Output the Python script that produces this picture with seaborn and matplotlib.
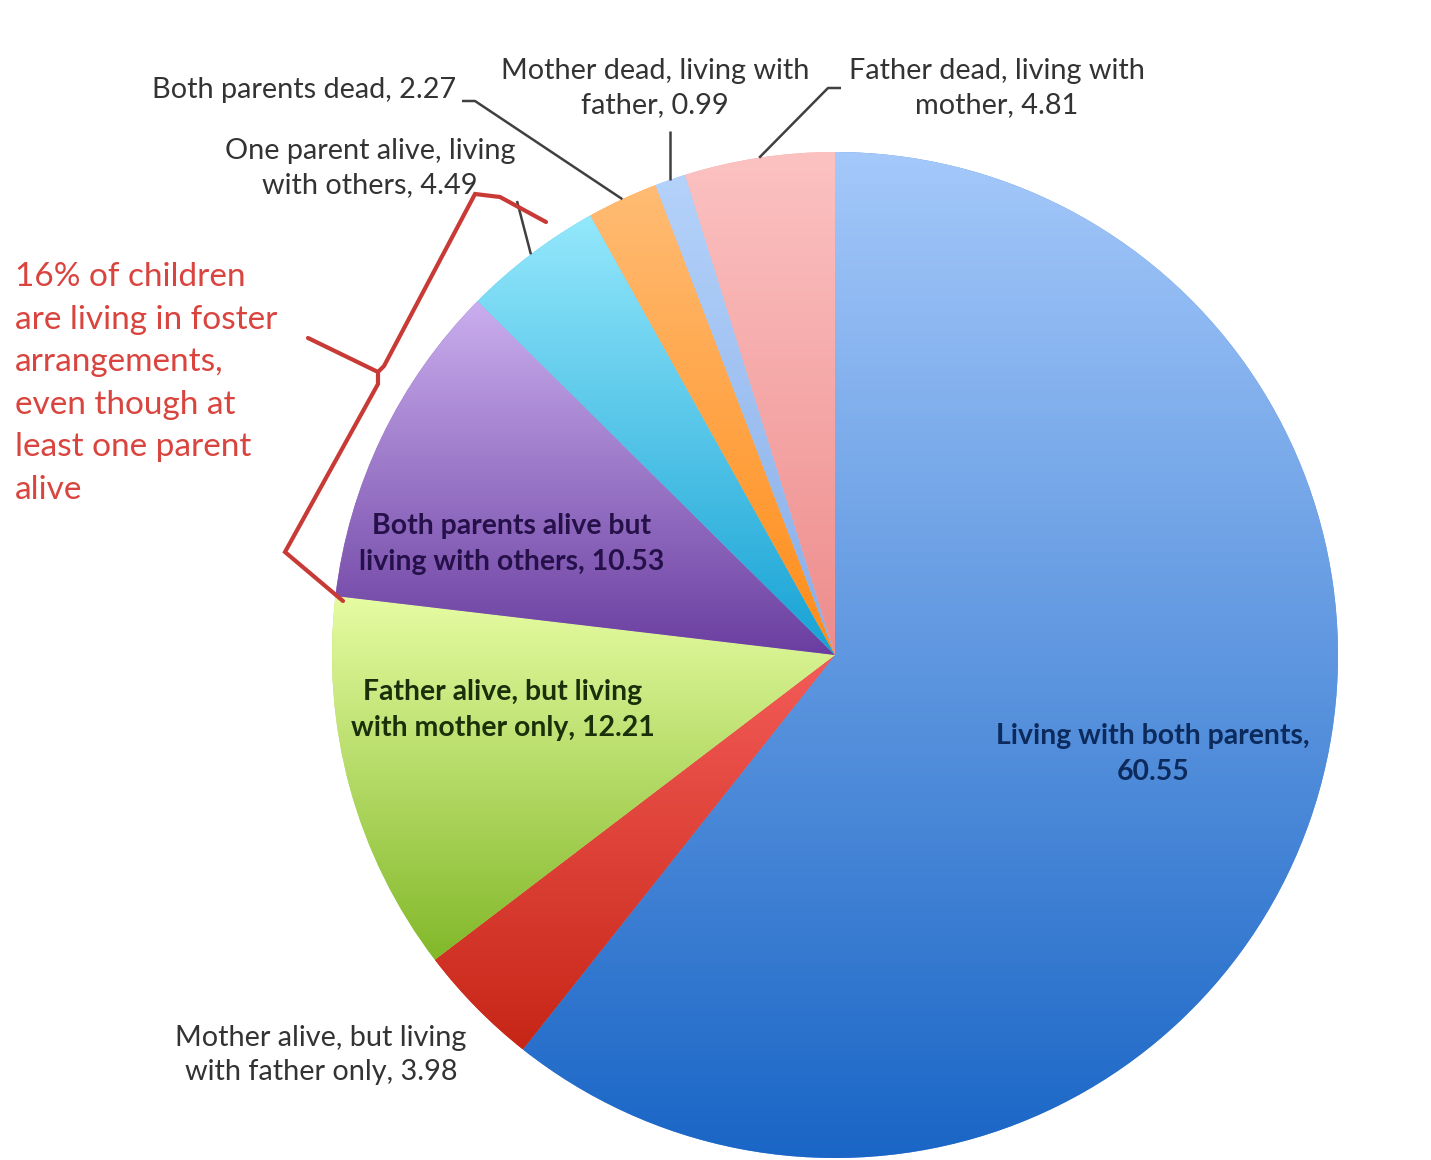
import numpy as np
import matplotlib
matplotlib.use("Agg")
import matplotlib.pyplot as plt
import seaborn as sns

# Living arrangements of children (percent), clockwise from 12 o'clock
categories = [
    "Living with both parents",
    "Mother alive, but living with father only",
    "Father alive, but living with mother only",
    "Both parents alive but living with others",
    "One parent alive, living with others",
    "Both parents dead",
    "Mother dead, living with father",
    "Father dead, living with mother",
]
values = [60.55, 3.98, 12.21, 10.53, 4.49, 2.27, 0.99, 4.81]

# (top colour, bottom colour) of each slice's vertical gradient
top_colors = ["#a4c8fa", "#f45c58", "#e6fca2", "#caaeee", "#94e8fc", "#ffbc74", "#b4d2fa", "#fcc2c2"]
bottom_colors = ["#1a66c6", "#c62616", "#82b82a", "#6a3ea0", "#16a2d4", "#ff8c18", "#88aee8", "#ee8c8c"]

label_texts = [
    "Living with both parents,\n60.55",
    "Mother alive, but living\nwith father only, 3.98",
    "Father alive, but living\nwith mother only, 12.21",
    "Both parents alive but\nliving with others, 10.53",
    "One parent alive, living\nwith others, 4.49",
    "Both parents dead, 2.27",
    "Mother dead, living with\nfather, 0.99",
    "Father dead, living with\nmother, 4.81",
]

note_text = ("16% of children\nare living in foster\narrangements,\n"
             "even though at\nleast one parent\nalive")

sns.set_theme(style="white")
plt.rcParams["font.family"] = ["Lato", "DejaVu Sans"]

W, H = 1431, 1160
fig = plt.figure(figsize=(W / 100, H / 100), dpi=100)
ax = fig.add_axes([0, 0, 1, 1])


def py(y):
    """Convert a top-down page coordinate to the axis y value."""
    return H - y


cx, cy, R = 835, py(655), 503

wedges, _ = ax.pie(values, startangle=90, counterclock=False,
                   center=(cx, cy), radius=R,
                   colors=[sns.blend_palette([t, b], 3)[1] for t, b in zip(top_colors, bottom_colors)],
                   wedgeprops=dict(linewidth=0, antialiased=True))

# gradient fill clipped to each wedge
grad = np.linspace(0, 1, 256).reshape(-1, 1)
for w, t, b in zip(wedges, top_colors, bottom_colors):
    cmap = sns.blend_palette([t, b], n_colors=256, as_cmap=True)
    ext = w.get_path().get_extents()
    im = ax.imshow(grad, cmap=cmap, origin="upper", aspect="auto",
                   extent=[ext.x0, ext.x1, ext.y0, ext.y1], interpolation="bilinear",
                   zorder=w.get_zorder() + 0.1)
    im.set_clip_path(w)


def edge_point(i, r=R):
    w = wedges[i]
    th = np.deg2rad((w.theta1 + w.theta2) / 2)
    return cx + r * np.cos(th), cy + r * np.sin(th)


lab = dict(fontsize=20.8, color="#333333", linespacing=1.4, zorder=5)
inner = dict(fontsize=20.4, fontweight="bold", linespacing=1.45, ha="center", va="center", zorder=5)
line_kw = dict(color="#404040", lw=1.8, zorder=4, solid_capstyle="butt")

# labels inside the slices
ax.text(1153, py(754), label_texts[0], color="#0c2a5c", **inner)
ax.text(503, py(710), label_texts[2], color="#1a300a", **inner)
ax.text(512, py(544), label_texts[3], color="#26104a", **inner)

# outside labels with leader lines
ax.text(321, py(1055), label_texts[1], ha="center", va="center", **lab)

ax.text(370, py(168), label_texts[4], ha="center", va="center", **lab)
ex, ey = edge_point(4)
ax.plot([517, ex], [py(201), ey], **line_kw)

ax.text(456, py(90), label_texts[5], ha="right", va="center", **lab)
ex, ey = edge_point(5)
ax.plot([462, 475, ex], [py(101), py(101), ey], **line_kw)

ax.text(655, py(88), label_texts[6], ha="center", va="center", **lab)
ex, ey = edge_point(6)
ax.plot([ex, ex], [py(131), ey], **line_kw)

ax.text(997, py(88), label_texts[7], ha="center", va="center", **lab)
ex, ey = edge_point(7)
ax.plot([ex, 828, 841], [ey, py(88), py(88)], **line_kw)

# red bracket and note
red = "#d9443e"
ax.plot([546, 500, 475, 384, 378], [py(222), py(197), py(194), py(366), py(372)],
        color="#c83a36", lw=3, zorder=6, solid_joinstyle="miter")
ax.plot([308, 378, 378, 285, 343], [py(338), py(372), py(384), py(552), py(601)],
        color="#c83a36", lw=3, zorder=6, solid_joinstyle="miter")
ax.text(15, py(383.5), note_text, color=red, fontsize=24, linespacing=1.52,
        ha="left", va="center", zorder=6)

ax.set_xlim(0, W)
ax.set_ylim(0, H)
ax.set_aspect("equal")
ax.axis("off")

fig.savefig("out.png", dpi=100, facecolor="white")
